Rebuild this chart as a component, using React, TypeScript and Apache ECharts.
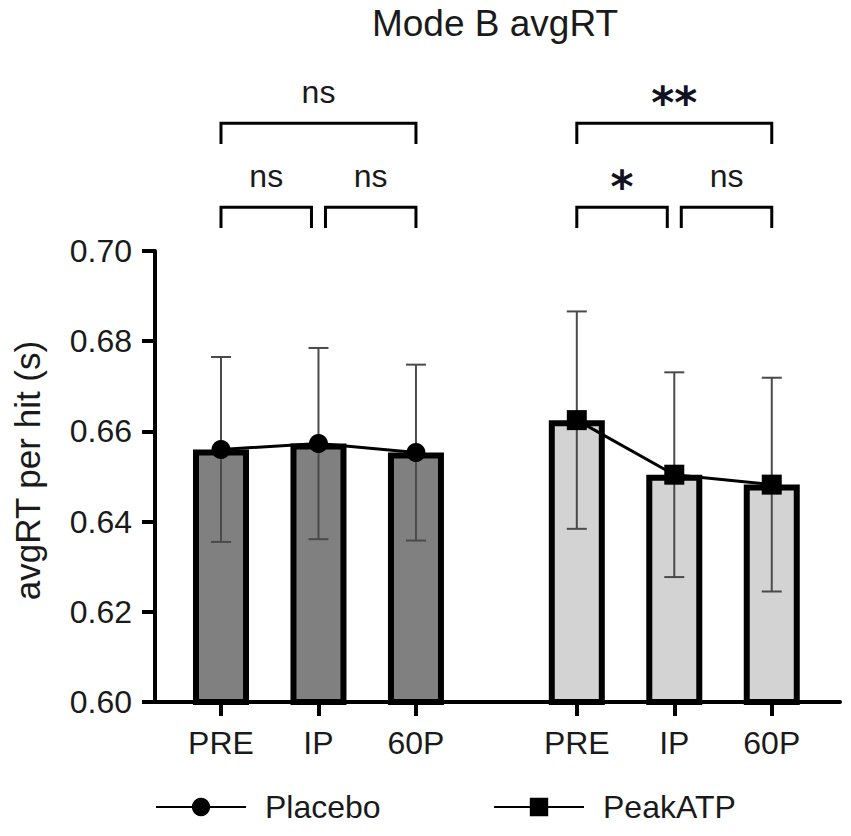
import React, { useEffect, useRef } from "react";
import * as echarts from "echarts";

// ---- data ----
const groups = ["Placebo", "PeakATP"];
const catLabels = ["PRE", "IP", "60P", "PRE", "IP", "60P"];
const catPos = [0, 1, 2, 3.65, 4.65, 5.65];
const placeboMean = [0.656, 0.6573, 0.6553];
const placeboSD = [0.0205, 0.0212, 0.0195];
const peakMean = [0.6625, 0.6504, 0.6482];
const peakSD = [0.0241, 0.0227, 0.0237];
const yTicks = { min: 0.6, max: 0.7, interval: 0.02 };
// significance brackets: category index from/to, bracket level value, leg end value, label
const bracketFrom = [0, 1, 0, 3, 4, 3];
const bracketTo = [1, 2, 2, 4, 5, 5];
const bracketY = [0.7097, 0.7097, 0.7283, 0.7097, 0.7097, 0.7283];
const bracketLegY = [0.7051, 0.7051, 0.7237, 0.7051, 0.7051, 0.7237];
const bracketLabels = ["ns", "ns", "ns", "*", "ns", "**"];

const FONT = "'Liberation Sans', Arial, sans-serif";
const INK = "#1a1a1a";

export default function App() {
  const ref = useRef<HTMLDivElement>(null);
  useEffect(() => {
    if (!ref.current) return;
    const chart = echarts.init(ref.current, undefined, { renderer: "svg" });

    const placeboPos = catPos.slice(0, 3);
    const peakPos = catPos.slice(3, 6);

    const labelFor = (v: number) => {
      const i = catPos.findIndex((p) => Math.abs(p - v) < 1e-6);
      return i >= 0 ? catLabels[i] : "";
    };

    const errData = [
      ...placeboPos.map((x, i) => [x, placeboMean[i] - placeboSD[i], placeboMean[i] + placeboSD[i]]),
      ...peakPos.map((x, i) => [x, peakMean[i] - peakSD[i], peakMean[i] + peakSD[i]]),
    ];

    const bracketData = bracketFrom.map((f, i) => [catPos[f], catPos[bracketTo[i]], bracketY[i], bracketLegY[i]]);

    const legendBase = {
      top: 786,
      itemWidth: 90,
      itemHeight: 23,
      textStyle: { fontFamily: FONT, fontSize: 32, color: INK, padding: [0, 0, 0, 14] },
    };

    const option: any = {
      animation: false,
      backgroundColor: "#fff",
      title: {
        text: "Mode B avgRT",
        left: 490,
        top: 0,
        textAlign: "center",
        textStyle: { fontFamily: FONT, fontSize: 37, fontWeight: "normal", color: INK },
      },
      legend: [
        { ...legendBase, data: [groups[0]], left: 150 },
        { ...legendBase, data: [groups[1]], left: 488 },
      ],
      grid: { left: 155, top: 251, width: 685, height: 451, outerBoundsMode: "none", containLabel: false },
      xAxis: {
        type: "value",
        min: -0.677,
        max: 6.35,
        axisLine: { show: true, onZero: false, lineStyle: { color: "#000", width: 4 } },
        axisTick: { show: true, customValues: catPos, length: 14, lineStyle: { color: "#000", width: 4 } },
        axisLabel: {
          show: true,
          customValues: catPos,
          formatter: (v: number) => labelFor(v),
          fontFamily: FONT,
          fontSize: 32,
          color: INK,
          margin: 25,
        },
        splitLine: { show: false },
      },
      yAxis: {
        type: "value",
        min: yTicks.min,
        max: yTicks.max,
        interval: yTicks.interval,
        name: "avgRT per hit (s)",
        nameLocation: "middle",
        nameRotate: 90,
        nameGap: 110,
        nameTextStyle: { fontFamily: FONT, fontSize: 35, color: INK, padding: [0, 0, 0, 12] },
        axisLine: { show: true, onZero: false, lineStyle: { color: "#000", width: 4 } },
        axisTick: { show: true, length: 13, lineStyle: { color: "#000", width: 4 } },
        axisLabel: {
          formatter: (v: number) => v.toFixed(2),
          fontFamily: FONT,
          fontSize: 32,
          color: INK,
          margin: 23,
        },
        splitLine: { show: false },
      },
      series: [
        {
          name: "Placebo bars",
          type: "bar",
          z: 2,
          barWidth: 56,
          barGap: "-100%",
          itemStyle: { color: "#808080", borderColor: "#000", borderWidth: 6 },
          data: placeboPos.map((x, i) => [x, placeboMean[i]]),
        },
        {
          name: "PeakATP bars",
          type: "bar",
          z: 2,
          barWidth: 56,
          barGap: "-100%",
          itemStyle: { color: "#d3d3d3", borderColor: "#000", borderWidth: 6 },
          data: peakPos.map((x, i) => [x, peakMean[i]]),
        },
        {
          name: "err",
          type: "custom",
          z: 3,
          encode: { x: 0, y: [1, 2] },
          data: errData,
          renderItem: (params: any, api: any) => {
            const x = api.value(0);
            const lo = api.coord([x, api.value(1)]);
            const hi = api.coord([x, api.value(2)]);
            const cap = 10;
            const st = { stroke: "#4a4a4a", lineWidth: 2 };
            return {
              type: "group",
              children: [
                { type: "line", shape: { x1: lo[0], y1: lo[1], x2: hi[0], y2: hi[1] }, style: st },
                { type: "line", shape: { x1: lo[0] - cap, y1: lo[1], x2: lo[0] + cap, y2: lo[1] }, style: st },
                { type: "line", shape: { x1: hi[0] - cap, y1: hi[1], x2: hi[0] + cap, y2: hi[1] }, style: st },
              ],
            };
          },
        },
        {
          name: groups[0],
          type: "line",
          z: 4,
          symbol: "circle",
          symbolSize: 19,
          lineStyle: { color: "#000", width: 3 },
          itemStyle: { color: "#000" },
          data: placeboPos.map((x, i) => [x, placeboMean[i]]),
        },
        {
          name: groups[1],
          type: "line",
          z: 4,
          symbol: "rect",
          symbolSize: 20,
          lineStyle: { color: "#000", width: 3 },
          itemStyle: { color: "#000" },
          data: peakPos.map((x, i) => [x, peakMean[i]]),
        },
        {
          name: "brackets",
          type: "custom",
          z: 5,
          clip: false,
          encode: { x: [0, 1], y: [2, 3] },
          data: bracketData,
          renderItem: (params: any, api: any) => {
            const idx = params.dataIndex;
            const pL = api.coord([api.value(0), api.value(2)]);
            const pR = api.coord([api.value(1), api.value(2)]);
            const legY = api.coord([api.value(0), api.value(3)])[1];
            let xl = pL[0];
            let xr = pR[0];
            if (bracketFrom[idx] % 3 === 1) xl += 7;
            if (bracketTo[idx] % 3 === 1) xr -= 7;
            const y = pL[1];
            const st = { stroke: "#000", lineWidth: 3, fill: "none" };
            const label = bracketLabels[idx];
            const isStar = label.indexOf("*") >= 0;
            return {
              type: "group",
              children: [
                {
                  type: "polyline",
                  shape: { points: [[xl, legY], [xl, y], [xr, y], [xr, legY]] },
                  style: st,
                },
                {
                  type: "text",
                  x: (xl + xr) / 2,
                  y: isStar ? y - 21 : y - 31,
                  style: {
                    text: label,
                    align: "center",
                    verticalAlign: "middle",
                    fontFamily: isStar ? "'DejaVu Sans', sans-serif" : FONT,
                    fontWeight: isStar ? "bold" : "normal",
                    fontSize: isStar ? 44 : 32,
                    fill: isStar ? "#111122" : INK,
                  },
                },
              ],
            };
          },
        },
      ],
    };
    chart.setOption(option);
    return () => chart.dispose();
  }, []);
  return (
    <div
      ref={ref}
      style={{ position: "fixed", left: 0, top: 0, width: 851, height: 836, background: "#fff" }}
    />
  );
}
